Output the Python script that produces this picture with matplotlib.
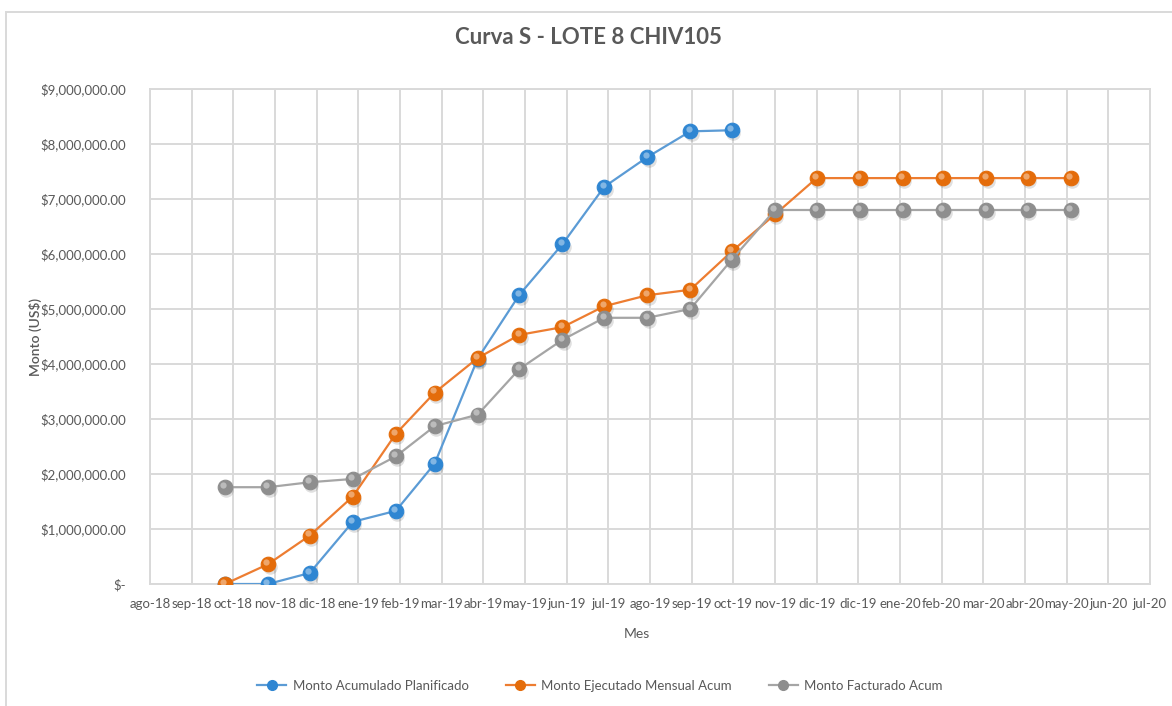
import matplotlib
matplotlib.use("Agg")
import matplotlib.pyplot as plt
from matplotlib.transforms import offset_copy
from matplotlib.lines import Line2D
from matplotlib.ticker import FuncFormatter
import numpy as np
import datetime as dt

plt.rcParams['font.family'] = ['Lato', 'DejaVu Sans']

# ---------------- data ----------------
point_dates = ["2018-10-01", "2018-11-01", "2018-12-01", "2019-01-01", "2019-02-01",
               "2019-03-01", "2019-04-01", "2019-05-01", "2019-06-01", "2019-07-01",
               "2019-08-01", "2019-09-01", "2019-10-01", "2019-11-01", "2019-12-01",
               "2020-01-01", "2020-02-01", "2020-03-01", "2020-04-01", "2020-05-01",
               "2020-06-01"]
planificado = [0.0, 0.0, 0.20, 1.13, 1.33, 2.19, 4.10, 5.26, 6.18, 7.22, 7.76, 8.23, 8.25]
ejecutado = [0.0, 0.36, 0.88, 1.59, 2.73, 3.48, 4.11, 4.53, 4.67, 5.05, 5.25, 5.35, 6.05,
             6.72, 7.38, 7.38, 7.38, 7.38, 7.38, 7.38, 7.38]
facturado = [1.76, 1.76, 1.85, 1.91, 2.32, 2.87, 3.08, 3.91, 4.44, 4.84, 4.84, 5.00, 5.90,
             6.80, 6.80, 6.80, 6.80, 6.80, 6.80, 6.80, 6.80]
tick_labels = ["ago-18", "sep-18", "oct-18", "nov-18", "dic-18", "ene-19", "feb-19", "mar-19",
               "abr-19", "may-19", "jun-19", "jul-19", "ago-19", "sep-19", "oct-19", "nov-19",
               "dic-19", "dic-19", "ene-20", "feb-20", "mar-20", "abr-20", "may-20", "jun-20",
               "jul-20"]
axis_start = "2018-08-08"
tick_step_days = 30
series_names = ["Monto Acumulado Planificado", "Monto Ejecutado Mensual Acum", "Monto Facturado Acum"]
line_colors = ["#5B9BD5", "#ED7D31", "#A5A5A5"]
marker_colors = ["#2F86D2", "#E46C0A", "#8E8E8E"]

# ---------------- figure ----------------
fig = plt.figure(figsize=(11.72, 7.06), dpi=100)
W, H = 1172, 706
ax = fig.add_axes([150 / W, 1 - 584 / H, 1000 / W, (584 - 89) / H])

x_pts = [dt.datetime.strptime(d, "%Y-%m-%d") for d in point_dates]
start = dt.datetime.strptime(axis_start, "%Y-%m-%d")
tick_pos = [start + dt.timedelta(days=tick_step_days * k) for k in range(len(tick_labels))]

SCALE = 1e6
series = [planificado, ejecutado, facturado]

# marker shadows
shadow_tr = offset_copy(ax.transData, fig=fig, x=1.5, y=-3, units='dots')
for vals in series:
    ax.plot(x_pts[:len(vals)], np.array(vals) * SCALE, ls='none', marker='o', ms=10.5,
            mfc='#000000', mec='none', alpha=0.12, transform=shadow_tr, zorder=3)

hl_tr = offset_copy(ax.transData, fig=fig, x=-1.6, y=2.2, units='dots')
for i, vals in enumerate(series):
    z = 4 + i * 3
    ax.plot(x_pts[:len(vals)], np.array(vals) * SCALE, color=line_colors[i], lw=1.6,
            marker='o', ms=10.5, mfc=marker_colors[i], mec=marker_colors[i], mew=0.8,
            zorder=z, solid_capstyle='round')
    ax.plot(x_pts[:len(vals)], np.array(vals) * SCALE, ls='none', marker='o', ms=4.5,
            mfc='white', mec='none', alpha=0.4, transform=hl_tr, zorder=z + 1)

ax.set_xlim(tick_pos[0], tick_pos[-1])
ax.set_ylim(0, 9 * SCALE)
ax.set_xticks(tick_pos)
ax.set_xticklabels(tick_labels)
ax.set_yticks(np.arange(0, 10) * SCALE)


def money(v, pos):
    if abs(v) < 1:
        return "$-"
    return "${:,.2f}".format(v)


ax.yaxis.set_major_formatter(FuncFormatter(money))
ax.grid(True, color='#D9D9D9', lw=1.4, zorder=0)
ax.set_axisbelow(True)
for s in ax.spines.values():
    s.set_color('#D9D9D9')
    s.set_linewidth(1.4)
ax.tick_params(length=0, colors='#595959', labelsize=9.5)
ax.tick_params(axis='x', pad=10)
ax.tick_params(axis='y', pad=17)

ax.set_xlabel("Mes", color='#595959', fontsize=10)
ax.set_ylabel("Monto (US$)", color='#595959', fontsize=10, fontweight='semibold')
ax.xaxis.set_label_coords((637 - 150) / 1000, -(634 - 584) / 495)
ax.yaxis.set_label_coords((35 - 150) / 1000, 0.5)
ax.xaxis.label.set_va('center')
ax.yaxis.label.set_va('center')

fig.text(588 / W, 1 - 37 / H, "Curva S - LOTE 8 CHIV105", ha='center', va='center',
         fontsize=16, fontweight='bold', color='#595959')

handles = [Line2D([0], [0], color=line_colors[i], lw=1.6, marker='o', ms=7,
                  mfc=marker_colors[i], mec=marker_colors[i]) for i in range(3)]
fig.legend(handles, series_names, loc='center', bbox_to_anchor=(600 / W, 1 - 686 / H),
           ncol=3, frameon=False, fontsize=9.5, labelcolor='#595959', handlelength=2.2,
           columnspacing=2.8, handletextpad=0.5)

# outer chart frame
fig.patches.append(plt.Rectangle((6 / W, -0.05), 1.2, 1 - 12 / H + 0.05,
                                 transform=fig.transFigure, fill=False,
                                 edgecolor='#D9D9D9', lw=1.4))

fig.savefig("out.png", dpi=100)
